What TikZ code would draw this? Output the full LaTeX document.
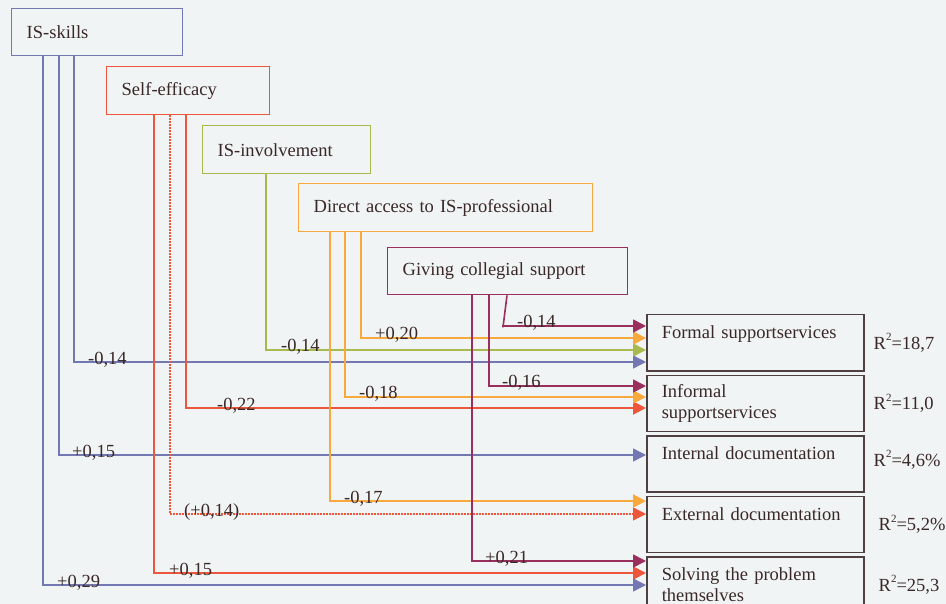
\documentclass[tikz,border=0pt]{standalone}
\usepackage{fontspec}
\setmainfont{Liberation Serif}
\usetikzlibrary{arrows.meta,positioning}

\definecolor{bg}{HTML}{F1F4F4}
\definecolor{txt}{HTML}{3A2828}
\definecolor{skc}{HTML}{7478B2}
\definecolor{sec}{HTML}{EC573B}
\definecolor{inc}{HTML}{A8BA4E}
\definecolor{dac}{HTML}{F7A93D}
\definecolor{csc}{HTML}{9A2F5E}
\definecolor{tgc}{HTML}{4E4040}

\newcommand{\rsqr}[1]{R\raisebox{0.45em}{\fontsize{11}{11}\selectfont 2}=#1}

\begin{document}
\begin{tikzpicture}[x=1pt,y=-1pt,
  font=\fontsize{18.5}{21}\selectfont, text=txt,
  src/.style={draw, line width=1.4pt, anchor=north west, inner xsep=15pt,
    inner ysep=0pt, minimum height=47pt, align=left},
  tgt/.style={draw=tgc, line width=1.5pt, text width=187pt, inner xsep=15pt,
    minimum height=56pt, align=left},
  coef/.style={anchor=base west, inner sep=0pt},
  rsq/.style={anchor=west, inner sep=0pt},
  link/.style={-{Triangle[length=13pt,width=13pt]}},
  skl/.style={draw=skc, line width=1.4pt, link},
  sef/.style={draw=sec, line width=2pt, link},
  sefdot/.style={draw=sec, line width=1.3pt, dash pattern=on 1.5pt off 1.5pt, link},
  inv/.style={draw=inc, line width=1.6pt, link},
  dac/.style={draw=dac, line width=2pt, link},
  col/.style={draw=csc, line width=1.6pt, link},
]

\path[use as bounding box, fill=bg] (0,0) rectangle (946,604);
\clip (0,0) rectangle (946,604);

\node[src, draw=skc, text width=141pt] (skills) at (11,8) {IS-skills};
\node[src, draw=sec, text width=133pt, minimum height=48pt] (selfeff) at (106,66) {Self-efficacy};
\node[src, draw=inc, text width=138pt, minimum height=48pt] (involv) at (202,125) {IS-involvement};
\node[src, draw=dac, text width=264pt, minimum height=48pt] (direct) at (298,183) {Direct access to IS-professional};
\node[src, draw=csc, text width=210pt] (collegial) at (387,247) {Giving collegial support};

\node[tgt, anchor=north west] (formal) at (646,314) {Formal supportservices\\\mbox{}};
\node[tgt, below=3pt of formal] (informal) {Informal\\supportservices};
\node[tgt, below=3pt of informal] (internal) {Internal documentation\\\mbox{}};
\node[tgt, below=3pt of internal] (external) {External documentation\\\mbox{}};
\node[tgt, below=3pt of external] (solving) {Solving the problem\\themselves};

\node[rsq, xshift=9pt] (r1) at (formal.east) {\rsqr{18,7}};
\node[rsq, xshift=9pt] (r2) at (informal.east) {\rsqr{11,0}};
\node[rsq, xshift=9pt, yshift=4pt] (r3) at (internal.east) {\rsqr{4,6\%}};
\node[rsq, xshift=14pt] (r4) at (external.east) {\rsqr{5,2\%}};
\node[rsq, xshift=14pt] (r5) at (solving.east) {\rsqr{25,3}};

\draw[skl] (skills.south -| 43,0) |- (solving.west |- 0,585);
\draw[skl] (skills.south -| 59,0) |- (internal.west |- 0,455);
\draw[skl] (skills.south -| 74,0) |- (formal.west |- 0,362);

\draw[sef] (selfeff.south -| 154,0) |- (solving.west |- 0,573);
\draw[sefdot] (selfeff.south -| 170,0) |- (external.west |- 0,514);
\draw[sef] (selfeff.south -| 186,0) |- (informal.west |- 0,408);

\draw[inv] (involv.south -| 266,0) |- (formal.west |- 0,350);

\draw[dac] (direct.south -| 330,0) |- (external.west |- 0,501);
\draw[dac] (direct.south -| 345,0) |- (informal.west |- 0,397);
\draw[dac] (direct.south -| 361,0) |- (formal.west |- 0,338);

\draw[col] (collegial.south -| 472,0) |- (solving.west |- 0,561);
\draw[col] (collegial.south -| 489,0) |- (informal.west |- 0,386);
\draw[col] (collegial.south -| 507,0) -- ++(-4,32) |- (formal.west |- 0,326);

\node[coef] (sk1) at (88,364) {-0,14};
\node[coef] (sk2) at (72,457) {+0,15};
\node[coef] (sk3) at (57,587) {+0,29};
\node[coef] (se1) at (217,410) {-0,22};
\node[coef] (se2) at (184,516) {(+0,14)};
\node[coef] (se3) at (169,575) {+0,15};
\node[coef] (in1) at (281,352) {-0,14};
\node[coef] (da1) at (375,340) {+0,20};
\node[coef] (da2) at (359,399) {-0,18};
\node[coef] (da3) at (344,503) {-0,17};
\node[coef] (cs1) at (485,563) {+0,21};
\node[coef] (cs2) at (502,388) {-0,16};
\node[coef] (cs3) at (517,328) {-0,14};
\end{tikzpicture}
\end{document}
